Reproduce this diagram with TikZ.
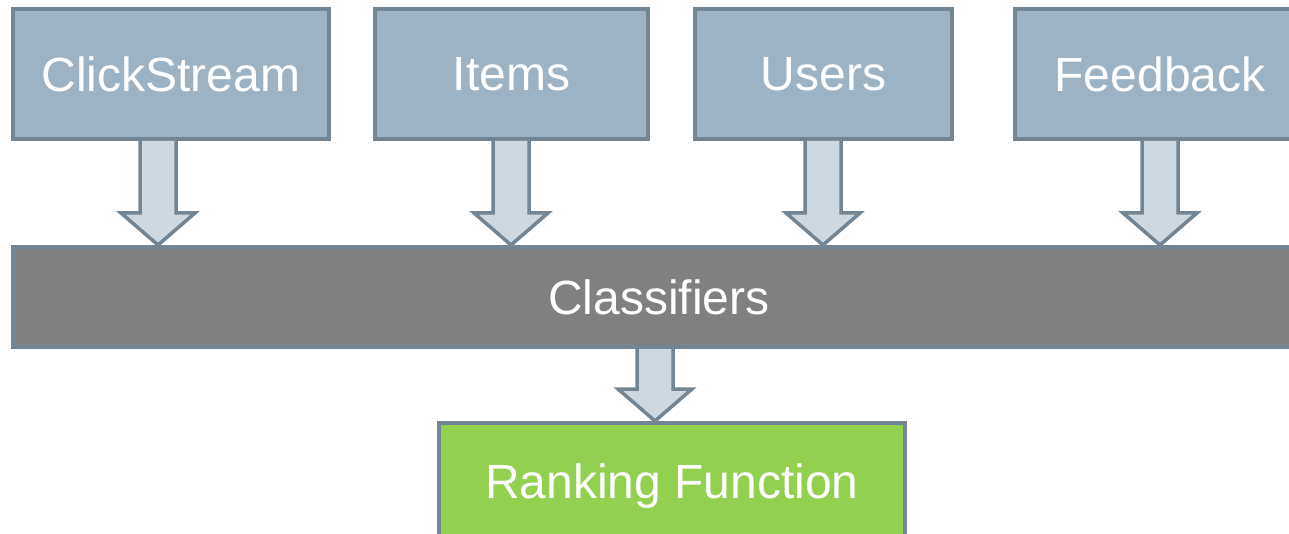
\documentclass[tikz,border=0pt]{standalone}
\usepackage{fontspec}
\setmainfont{Liberation Sans}
\usetikzlibrary{calc}
\definecolor{boxfill}{HTML}{9DB3C4}
\definecolor{edge}{HTML}{738592}
\definecolor{arrowfill}{HTML}{CDD8E1}
\definecolor{barfill}{HTML}{808080}
\definecolor{green}{HTML}{92D050}
\tikzset{
  label font/.style={font=\fontsize{48}{54}\selectfont},
  source/.style={draw=edge, line width=4pt, fill=boxfill, text=white,
    label font, minimum height=130pt, inner sep=0pt},
  bar/.style={draw=edge, line width=4pt, fill=barfill, text=white,
    label font, minimum height=100pt, inner sep=0pt},
  result/.style={draw=edge, line width=4pt, fill=green, text=white,
    label font, inner sep=0pt},
  fat/.style={draw=edge, line width=3.5pt, fill=arrowfill, line join=miter}
}
% block arrow: #1 x position, #2 start node (bottom), #3 end node (top)
\newcommand{\blockarrow}[3]{%
  \draw[fat] let \p1=(#2.south), \p2=(#3.north) in
    (#1-18,\y1) -- (#1-18,\y2+32) -- (#1-37,\y2+32) -- (#1,\y2)
    -- (#1+37,\y2+32) -- (#1+18,\y2+32) -- (#1+18,\y1);}
\begin{document}
\begin{tikzpicture}[x=1pt,y=1pt]
\useasboundingbox (0,0) rectangle (1289,533);
\clip (0,0) rectangle (1289,533);
% source boxes (y measured from bottom of page)
\node[source, minimum width=316pt] (cs) at (171,459) {ClickStream};
\node[source, minimum width=273pt] (it) at (511.5,459) {Items};
\node[source, minimum width=257pt] (us) at (823.5,459) {Users};
\node[source, minimum width=290pt] (fb) at (1160,459) {Feedback};
% classifier bar
\node[bar, minimum width=1292pt] (cl) at (659,236) {Classifiers};
% ranking function
\node[result, minimum width=466pt, minimum height=127pt] (rf) at (672,46.5) {};
\node[text=white, label font] (rft) at (672,47) {Ranking Function};
% connectors
\blockarrow{158}{cs}{cl}
\blockarrow{511}{it}{cl}
\blockarrow{823}{us}{cl}
\blockarrow{1160}{fb}{cl}
\blockarrow{655}{cl}{rf}
\end{tikzpicture}
\end{document}
